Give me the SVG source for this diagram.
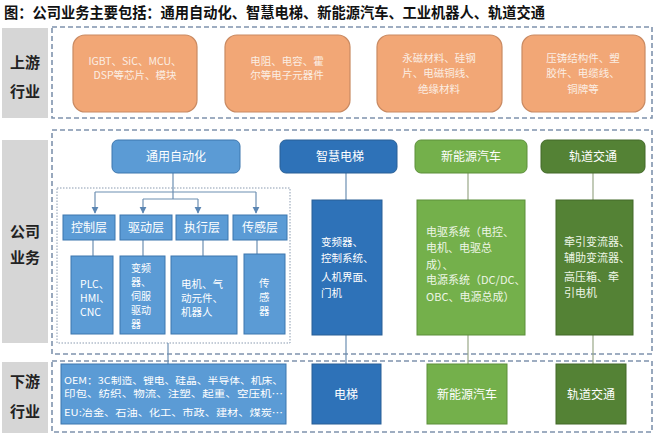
<svg xmlns="http://www.w3.org/2000/svg" width="660" height="436" viewBox="0 0 660 436">
<defs>
<style>
text{font-family:"Noto Sans CJK SC","Liberation Sans",sans-serif;}
.title{font-size:15px;font-weight:bold;fill:#111;}
.lbl{font-size:15px;font-weight:bold;fill:#222;text-anchor:middle;}
.gray{fill:#d6d6d6;}
.dash{fill:none;stroke:#7f93ad;stroke-width:1.6;stroke-dasharray:5 3;}
.dot{fill:none;stroke:#8a9bb0;stroke-width:1;stroke-dasharray:1.5 1.5;}
.org{fill:#f2a776;stroke:#c98a62;stroke-width:1.2;}
.otx{font-size:10.5px;fill:#fbeee4;text-anchor:middle;}
.lb{fill:#5b9bd5;stroke:#3d76ae;stroke-width:1;}
.db{fill:#2e72b8;stroke:#285f96;stroke-width:1;}
.lg{fill:#74b04b;stroke:#5d8f3b;stroke-width:1;}
.dg{fill:#548235;stroke:#426829;stroke-width:1;}
.wt{font-size:12px;fill:#fff;text-anchor:middle;}
.wl{font-size:10.5px;fill:#fff;}
.wd{font-size:10px;fill:#fff;}
.gt{font-size:11px;fill:#eef6e6;}
.sm{font-size:9.5px;fill:#fff;}
.ln{fill:none;stroke:#6d8fb2;stroke-width:1.2;}
.lng{fill:none;stroke:#9aa889;stroke-width:1.2;}
</style>
<marker id="arr" viewBox="0 0 10 10" refX="9" refY="5" markerWidth="6" markerHeight="6" orient="auto">
<path d="M0,0 L10,5 L0,10 z" fill="#5b86b3"/>
</marker>
</defs>
<rect width="660" height="436" fill="#fff"/>
<text class="title" x="4" y="18" textLength="541" lengthAdjust="spacingAndGlyphs">图：公司业务主要包括：通用自动化、智慧电梯、新能源汽车、工业机器人、轨道交通</text>

<!-- side labels -->
<g id="label-upstream">
<rect class="gray" x="2" y="28" width="46" height="90"/>
<text class="lbl" x="25" y="68">上游</text>
<text class="lbl" x="25" y="97">行业</text>
</g>
<g id="label-company">
<rect class="gray" x="2" y="140" width="46" height="203"/>
<text class="lbl" x="25" y="237">公司</text>
<text class="lbl" x="25" y="263">业务</text>
</g>
<g id="label-downstream">
<rect class="gray" x="2" y="362" width="46" height="71"/>
<text class="lbl" x="25" y="387">下游</text>
<text class="lbl" x="25" y="417">行业</text>
</g>

<!-- section frames -->
<g id="frames">
<rect class="dash" x="52" y="27" width="600" height="91"/>
<rect class="dash" x="52" y="130" width="600" height="224"/>
<rect class="dash" x="52" y="361" width="600" height="71"/>
<rect class="dot" x="57" y="188" width="233" height="155"/>
</g>

<!-- upstream -->
<g id="up1">
<rect class="org" x="73" y="35" width="124" height="77" rx="12"/>
<text class="otx" x="135" y="65">IGBT、SiC、MCU、</text>
<text class="otx" x="135" y="79">DSP等芯片、模块</text>
</g>
<g id="up2">
<rect class="org" x="225" y="35" width="125" height="77" rx="12"/>
<text class="otx" x="287" y="65">电阻、电容、霍</text>
<text class="otx" x="287" y="79">尔等电子元器件</text>
</g>
<g id="up3">
<rect class="org" x="377" y="35" width="125" height="77" rx="12"/>
<text class="otx" x="439" y="62">永磁材料、硅钢</text>
<text class="otx" x="439" y="77">片、电磁铜线、</text>
<text class="otx" x="439" y="93">绝缘材料</text>
</g>
<g id="up4">
<rect class="org" x="522" y="35" width="123" height="77" rx="12"/>
<text class="otx" x="583" y="62">压铸结构件、塑</text>
<text class="otx" x="583" y="77">胶件、电缆线、</text>
<text class="otx" x="583" y="93">铜牌等</text>
</g>

<!-- connectors -->
<g id="connectors">
<path class="ln" d="M173,173 V192 M95,192 H256 M173,192 V199 M143,199 H198"/>
<path class="ln" d="M95,192 V213" marker-end="url(#arr)"/>
<path class="ln" d="M256,192 V213" marker-end="url(#arr)"/>
<path class="ln" d="M143,199 V213" marker-end="url(#arr)"/>
<path class="ln" d="M198,199 V213" marker-end="url(#arr)"/>
<path class="ln" d="M93,240 V256 M143,240 V256 M203,240 V256 M257,240 V254"/>
<path class="ln" d="M168,343 V364"/>
<path class="ln" d="M346,173 V200 M346,335 V364"/>
<path class="lng" d="M468,173 V200 M468,335 V364"/>
<path class="lng" d="M593,173 V200 M593,335 V364"/>
</g>

<!-- general automation -->
<g id="ga-head">
<rect class="lb" x="112" y="140" width="128" height="33" rx="6"/>
<text class="wt" x="176" y="161">通用自动化</text>
</g>
<g id="layer-ctrl">
<rect class="lb" x="63" y="215" width="52" height="25"/>
<text class="wt" x="89" y="232">控制层</text>
</g>
<g id="layer-drive">
<rect class="lb" x="120" y="215" width="52" height="25"/>
<text class="wt" x="146" y="232">驱动层</text>
</g>
<g id="layer-exec">
<rect class="lb" x="176" y="215" width="52" height="25"/>
<text class="wt" x="202" y="232">执行层</text>
</g>
<g id="layer-sense">
<rect class="lb" x="233" y="215" width="54" height="25"/>
<text class="wt" x="260" y="232">传感层</text>
</g>
<g id="det-ctrl">
<rect class="lb" x="71" y="256" width="42" height="78"/>
<text class="wl" x="80" y="288">PLC、</text>
<text class="wl" x="80" y="302">HMI、</text>
<text class="wl" x="80" y="316">CNC</text>
</g>
<g id="det-drive">
<rect class="lb" x="120" y="256" width="45" height="78"/>
<text class="wd" x="131" y="272">变频</text>
<text class="wd" x="131" y="286">器、</text>
<text class="wd" x="131" y="300">伺服</text>
<text class="wd" x="131" y="314">驱动</text>
<text class="wd" x="131" y="328">器</text>
</g>
<g id="det-exec">
<rect class="lb" x="171" y="256" width="66" height="78"/>
<text class="wl" x="181" y="288">电机、气</text>
<text class="wl" x="181" y="302">动元件、</text>
<text class="wl" x="181" y="316">机器人</text>
</g>
<g id="det-sense">
<rect class="lb" x="244" y="254" width="41" height="80"/>
<text class="wl" x="259" y="287">传</text>
<text class="wl" x="259" y="301">感</text>
<text class="wl" x="259" y="315">器</text>
</g>

<!-- elevator -->
<g id="el-head">
<rect class="db" x="280" y="140" width="117" height="33" rx="6"/>
<text class="wt" x="340" y="161">智慧电梯</text>
</g>
<g id="el-det">
<rect class="db" x="312" y="200" width="70" height="135"/>
<text class="wl" x="321" y="246">变频器、</text>
<text class="wl" x="321" y="262">控制系统、</text>
<text class="wl" x="321" y="281">人机界面、</text>
<text class="wl" x="321" y="297">门机</text>
</g>

<!-- NEV -->
<g id="nev-head">
<rect class="lg" x="415" y="140" width="112" height="33" rx="6"/>
<text class="wt" x="471" y="161" fill="#f3f9ee">新能源汽车</text>
</g>
<g id="nev-det">
<rect class="lg" x="417" y="200" width="108" height="135"/>
<text class="gt" x="426" y="236">电驱系统（电控、</text>
<text class="gt" x="426" y="252">电机、电驱总</text>
<text class="gt" x="426" y="269">成）、</text>
<text class="gt" x="426" y="284">电源系统（DC/DC、</text>
<text class="gt" x="426" y="301">OBC、电源总成）</text>
</g>

<!-- rail -->
<g id="rail-head">
<rect class="dg" x="541" y="140" width="104" height="33" rx="6"/>
<text class="wt" x="593" y="161">轨道交通</text>
</g>
<g id="rail-det">
<rect class="dg" x="556" y="200" width="77" height="135"/>
<text class="gt" x="564" y="246">牵引变流器、</text>
<text class="gt" x="564" y="262">辅助变流器、</text>
<text class="gt" x="564" y="281">高压箱、牵</text>
<text class="gt" x="564" y="297">引电机</text>
</g>

<!-- downstream -->
<g id="down-ga">
<rect class="lb" x="61" y="364" width="225" height="60"/>
<text class="sm" x="64" y="384" textLength="219" lengthAdjust="spacingAndGlyphs">OEM：3C制造、锂电、硅晶、半导体、机床、</text>
<text class="sm" x="64" y="397" textLength="219" lengthAdjust="spacingAndGlyphs">印包、纺织、物流、注塑、起重、空压机…</text>
<text class="sm" x="64" y="416" textLength="219" lengthAdjust="spacingAndGlyphs">EU:冶金、石油、化工、市政、建材、煤炭…</text>
</g>
<g id="down-el">
<rect class="db" x="312" y="364" width="69" height="60"/>
<text class="wt" x="346" y="399">电梯</text>
</g>
<g id="down-nev">
<rect class="lg" x="427" y="364" width="80" height="60"/>
<text class="wt" x="467" y="399">新能源汽车</text>
</g>
<g id="down-rail">
<rect class="dg" x="556" y="364" width="70" height="60"/>
<text class="wt" x="591" y="399">轨道交通</text>
</g>
</svg>
